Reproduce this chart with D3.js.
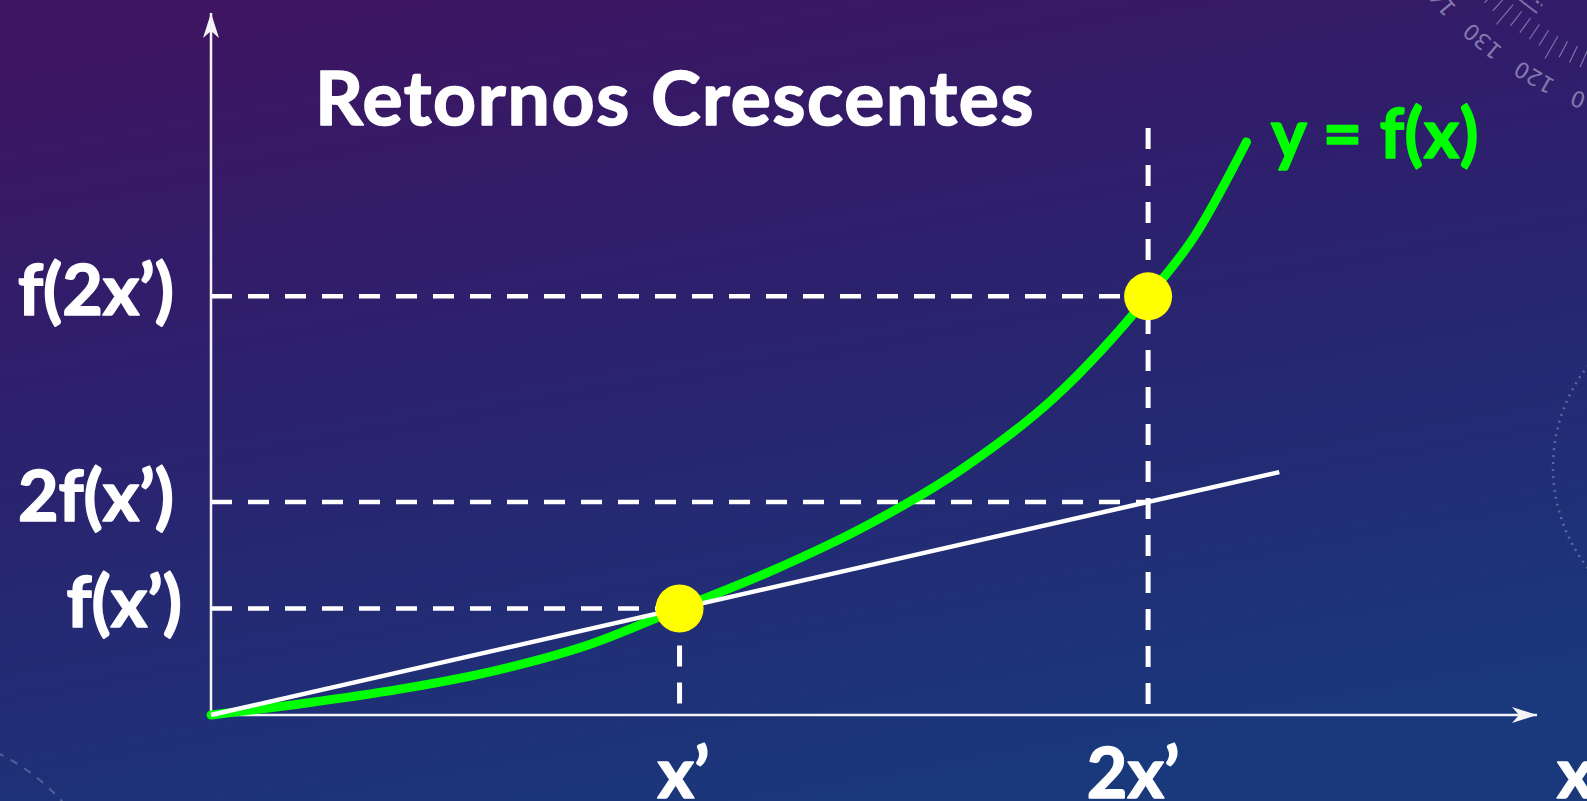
<!DOCTYPE html>
<html>
<head>
<meta charset="utf-8">
<script src="https://cdn.jsdelivr.net/npm/d3@7"></script>
<style>
  html, body { margin: 0; padding: 0; overflow: hidden; background: #2a2470; }
  svg { display: block; }
  text { font-family: Lato, "Open Sans", "Noto Sans", sans-serif; font-weight: 700; }
  text.bold { stroke-width: 1.6px; stroke-linejoin: round; }
</style>
</head>
<body>
<svg id="chart" width="1587" height="801"></svg>
<script>
// y = f(x) with increasing returns, in units of x' (horizontal) and f(x') (vertical)
const curveX = [0, 0.20, 0.40, 0.60, 0.80, 1.00, 1.20, 1.40, 1.60, 1.80, 2.00, 2.10, 2.21];
const curveY = [0, 0.11, 0.24, 0.41, 0.65, 1.00, 1.36, 1.78, 2.30, 2.98, 3.93, 4.50, 5.38];

// straight line from the origin through (x', f(x'))
const rayX = [0, 2.28];
const rayY = [0, 2.28];

// highlighted points (x', f(x')) and (2x', f(2x'))
const pointX = [1, 2];
const pointY = [1, 3.93];

// marks on the axes
const xMarkValues = [1, 2];
const xMarkLabels = ["x\u2019", "2x\u2019"];
const yMarkValues = [1, 2, 3.93];
const yMarkLabels = ["f(x\u2019)", "2f(x\u2019)", "f(2x\u2019)"];

// dashed reference lines
const hGuideY = [1, 2, 3.93];
const hGuideToX = [1, 2, 2];
const vGuideX = [1, 2];
const vGuideTop = [1, 5.51];

// axis extents
const xAxisMax = 2.83;
const yAxisMax = 6.59;

const titleText = "Retornos Crescentes";
const curveLabel = "y = f(x)";
const xAxisLabel = "x";

const W = 1587, H = 801;
const svg = d3.select("#chart");
const defs = svg.append("defs");

// background
const bg = defs.append("linearGradient").attr("id", "bg")
  .attr("x1", "0.25").attr("y1", "0").attr("x2", "0.6").attr("y2", "1");
[["0", "#3d1562"], ["0.35", "#2e1f6c"], ["0.7", "#222c74"], ["1", "#19397c"]]
  .forEach(([o, c]) => bg.append("stop").attr("offset", o).attr("stop-color", c));
svg.append("rect").attr("width", W).attr("height", H).attr("fill", "url(#bg)");

// decorative dial in the top-right corner
const deco = svg.append("g").attr("fill", "none").attr("stroke", "#d8d4f0").attr("stroke-opacity", 0.45);
const dc = [1715, -236];
const polar = (r, deg) => [dc[0] + r * Math.cos(deg * Math.PI / 180), dc[1] + r * Math.sin(deg * Math.PI / 180)];
deco.append("path").attr("stroke-width", 2)
  .attr("d", d3.arc()({innerRadius: 306, outerRadius: 306, startAngle: Math.PI * 1.5 - 0.1, endAngle: Math.PI * 1.5 - 0.95}))
  .attr("transform", `translate(${dc})`);
deco.append("path").attr("stroke-width", 2.5).attr("stroke-dasharray", "2 4")
  .attr("d", d3.arc()({innerRadius: 297, outerRadius: 297, startAngle: Math.PI * 1.5 - 0.1, endAngle: Math.PI * 1.5 - 0.95}))
  .attr("transform", `translate(${dc})`);
d3.range(100, 150, 2).forEach(a => {
  const [x1, y1] = polar(314, a), [x2, y2] = polar(a % 10 === 0 ? 340 : 332, a);
  deco.append("line").attr("x1", x1).attr("y1", y1).attr("x2", x2).attr("y2", y2).attr("stroke-width", 1.2);
});
[110, 120, 130, 140].forEach(a => {
  const [tx, ty] = polar(360, a);
  svg.append("text").attr("x", tx).attr("y", ty)
    .attr("transform", `rotate(${a + 90},${tx},${ty})`)
    .attr("text-anchor", "middle").attr("dominant-baseline", "middle")
    .style("font-family", "'DejaVu Sans', sans-serif").style("font-weight", 400)
    .attr("font-size", 22).attr("fill", "#d8d4f0").attr("fill-opacity", 0.5)
    .text(a);
});
svg.append("circle").attr("cx", 1717).attr("cy", 467).attr("r", 164)
  .attr("fill", "none").attr("stroke", "#c8d0f0").attr("stroke-opacity", 0.35)
  .attr("stroke-width", 2.5).attr("stroke-dasharray", "2 5");
svg.append("circle").attr("cx", -100).attr("cy", 950).attr("r", 220)
  .attr("fill", "none").attr("stroke", "#c8d0f0").attr("stroke-opacity", 0.3)
  .attr("stroke-width", 2).attr("stroke-dasharray", "8 8");

// scales
const x = d3.scaleLinear().domain([0, xAxisMax]).range([211, 1537]);
const y = d3.scaleLinear().domain([0, yAxisMax]).range([715, 13]);

// arrow heads
defs.append("marker").attr("id", "arrow")
  .attr("viewBox", "-26 -9 28 18").attr("refX", 0).attr("refY", 0)
  .attr("markerWidth", 28).attr("markerHeight", 18)
  .attr("markerUnits", "userSpaceOnUse").attr("orient", "auto")
  .append("path").attr("d", "M0,0 L-25,-8 L-18,0 L-25,8 Z").attr("fill", "#f4f4f8");

// dashed reference lines
const guides = svg.append("g").attr("stroke", "#ffffff").attr("stroke-dasharray", "21 16").attr("fill", "none");
hGuideY.forEach((v, i) => {
  guides.append("line").attr("stroke-width", 4.5)
    .attr("x1", x(0)).attr("x2", x(hGuideToX[i])).attr("y1", y(v)).attr("y2", y(v));
});
vGuideX.forEach((v, i) => {
  guides.append("line").attr("stroke-width", 5)
    .attr("x1", x(v)).attr("x2", x(v)).attr("y1", y(vGuideTop[i])).attr("y2", y(0));
});

// axes
svg.append("line").attr("x1", x(0)).attr("y1", y(0)).attr("x2", x(xAxisMax)).attr("y2", y(0))
  .attr("stroke", "#f4f4f8").attr("stroke-width", 2.5).attr("marker-end", "url(#arrow)");
svg.append("line").attr("x1", x(0)).attr("y1", y(0)).attr("x2", x(0)).attr("y2", y(yAxisMax))
  .attr("stroke", "#f4f4f8").attr("stroke-width", 2.5).attr("marker-end", "url(#arrow)");

// curve
const line = d3.line().x(d => x(d[0])).y(d => y(d[1])).curve(d3.curveMonotoneX);
svg.append("path").datum(d3.zip(curveX, curveY)).attr("d", line)
  .attr("fill", "none").attr("stroke", "#00ff00").attr("stroke-width", 9)
  .attr("stroke-linecap", "round");

// ray from the origin
svg.append("path").datum(d3.zip(rayX, rayY)).attr("d", d3.line().x(d => x(d[0])).y(d => y(d[1])))
  .attr("fill", "none").attr("stroke", "#ffffff").attr("stroke-width", 4.5);

// points
svg.selectAll("circle.pt").data(d3.zip(pointX, pointY)).join("circle").attr("class", "pt")
  .attr("cx", d => x(d[0])).attr("cy", d => y(d[1])).attr("r", 24).attr("fill", "#ffff00");

// axis mark labels
const yLabelRight = [182, 174, 174];
yMarkValues.forEach((v, i) => {
  svg.append("text").attr("class", "bold").attr("x", yLabelRight[i]).attr("y", y(v) + 19)
    .attr("text-anchor", "end").attr("font-size", 70).attr("fill", "#ffffff").attr("stroke", "#ffffff")
    .text(yMarkLabels[i]);
});
const xLabelShift = [4, -15];
xMarkValues.forEach((v, i) => {
  svg.append("text").attr("class", "bold").attr("x", x(v) + xLabelShift[i]).attr("y", 798)
    .attr("text-anchor", "middle").attr("font-size", 70).attr("fill", "#ffffff").attr("stroke", "#ffffff")
    .text(xMarkLabels[i]);
});
svg.append("text").attr("class", "bold").attr("x", 1557).attr("y", 798).attr("font-size", 70)
  .attr("fill", "#ffffff").attr("stroke", "#ffffff").text(xAxisLabel);

// titles
svg.append("text").attr("class", "bold").attr("x", 315).attr("y", 125).attr("font-size", 75)
  .attr("letter-spacing", 1.7).attr("fill", "#ffffff").attr("stroke", "#ffffff").text(titleText);
svg.append("text").attr("class", "bold").attr("x", 1271).attr("y", 158).attr("font-size", 68)
  .attr("letter-spacing", 0.5).attr("fill", "#00ff00").attr("stroke", "#00ff00").text(curveLabel);
</script>
</body>
</html>
